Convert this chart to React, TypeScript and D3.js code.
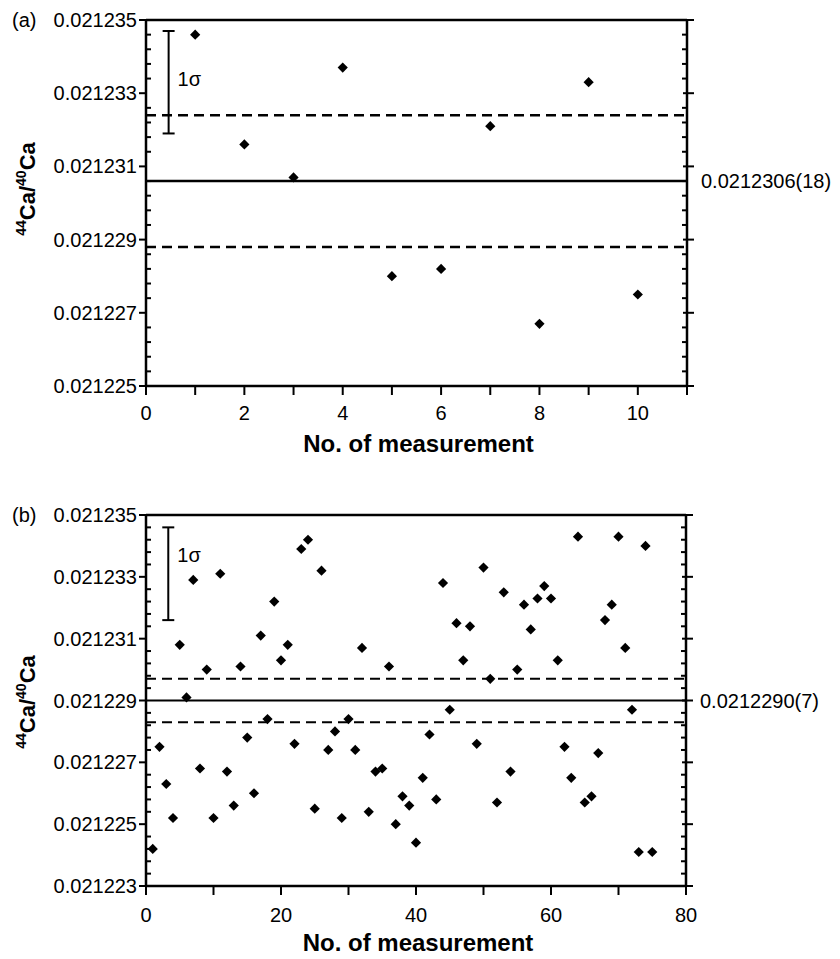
import React from 'react';
import * as d3 from 'd3';

// (a) ten measurements
const measA = [0.0212346, 0.0212316, 0.0212307, 0.0212337, 0.0212280, 0.0212282, 0.0212321, 0.0212267, 0.0212333, 0.0212275];
const meanA = 0.0212306;
const sdA = 0.0000018;
const labelA = '0.0212306(18)';
const errA = [0.0212347, 0.0212319];
const yTicksA = [0.021225, 0.021227, 0.021229, 0.021231, 0.021233, 0.021235];
const xTicksA = [0, 2, 4, 6, 8, 10];

// (b) seventy-five measurements
const measB = [
  0.0212242, 0.0212275, 0.0212263, 0.0212252, 0.0212308, 0.0212291, 0.0212329, 0.0212268, 0.0212300, 0.0212252,
  0.0212331, 0.0212267, 0.0212256, 0.0212301, 0.0212278, 0.0212260, 0.0212311, 0.0212284, 0.0212322, 0.0212303,
  0.0212308, 0.0212276, 0.0212339, 0.0212342, 0.0212255, 0.0212332, 0.0212274, 0.0212280, 0.0212252, 0.0212284,
  0.0212274, 0.0212307, 0.0212254, 0.0212267, 0.0212268, 0.0212301, 0.0212250, 0.0212259, 0.0212256, 0.0212244,
  0.0212265, 0.0212279, 0.0212258, 0.0212328, 0.0212287, 0.0212315, 0.0212303, 0.0212314, 0.0212276, 0.0212333,
  0.0212297, 0.0212257, 0.0212325, 0.0212267, 0.0212300, 0.0212321, 0.0212313, 0.0212323, 0.0212327, 0.0212323,
  0.0212303, 0.0212275, 0.0212265, 0.0212343, 0.0212257, 0.0212259, 0.0212273, 0.0212316, 0.0212321, 0.0212343,
  0.0212307, 0.0212287, 0.0212241, 0.0212340, 0.0212241,
];
const meanB = 0.021229;
const sdB = 0.0000007;
const labelB = '0.0212290(7)';
const errB = [0.0212346, 0.0212316];
const yTicksB = [0.021223, 0.021225, 0.021227, 0.021229, 0.021231, 0.021233, 0.021235];
const xTicksB = [0, 20, 40, 60, 80];

const FONT = '"Liberation Sans", Arial, Helvetica, sans-serif';

type PanelProps = {
  tag: string;
  values: number[];
  mean: number;
  sd: number;
  meanLabel: string;
  err: number[];
  errX: number;
  sigmaAt: number;
  yTicks: number[];
  xTicks: number[];
  xMax: number;
  xStep: number;
  box: { left: number; right: number; top: number; bottom: number };
  titleY: number;
  xLabelY: number;
  yTitleY: number;
  dash: string;
  lw: number;
};

const Panel = (p: PanelProps) => {
  const { left, right, top, bottom } = p.box;
  const yMin = p.yTicks[0];
  const yMax = p.yTicks[p.yTicks.length - 1];
  const x = d3.scaleLinear().domain([0, p.xMax]).range([left, right]);
  const y = d3.scaleLinear().domain([yMin, yMax]).range([bottom, top]);

  // minor ticks every 0.4e-6
  const nMinor = Math.round((yMax - yMin) / 0.0000004);
  const minor = d3.range(nMinor + 1).map(i => y(yMin + i * 0.0000004));
  const xAll = d3.range(0, p.xMax + 0.001, p.xStep);
  const diamond = d3.symbol(d3.symbolSquare, 52)();

  return (
    <g fontFamily={FONT}>
      <text x={12} y={top + 7} fontSize={20}>{p.tag}</text>

      {/* mean and +-sd lines */}
      <line x1={left} x2={right} y1={y(p.mean)} y2={y(p.mean)} stroke="#000" strokeWidth={p.lw} />
      {[p.mean + p.sd, p.mean - p.sd].map((v, i) => (
        <line key={i} x1={left} x2={right} y1={y(v)} y2={y(v)} stroke="#000" strokeWidth={p.lw} strokeDasharray={p.dash} />
      ))}
      <text x={right + 14} y={y(p.mean) + 7} fontSize={20}>{p.meanLabel}</text>

      {/* 1 sigma bar */}
      <g stroke="#000" strokeWidth={2}>
        <line x1={x(p.errX)} x2={x(p.errX)} y1={y(p.err[0])} y2={y(p.err[1])} />
        <line x1={x(p.errX) - 6} x2={x(p.errX) + 6} y1={y(p.err[0])} y2={y(p.err[0])} />
        <line x1={x(p.errX) - 6} x2={x(p.errX) + 6} y1={y(p.err[1])} y2={y(p.err[1])} />
      </g>
      <text x={x(p.errX) + 9} y={y(p.sigmaAt) + 7} fontSize={20}>1σ</text>

      {/* points */}
      {p.values.map((v, i) => (
        <path key={i} d={diamond || ''} transform={`translate(${x(i + 1)},${y(v)}) rotate(45)`} fill="#000" />
      ))}

      {/* frame */}
      <g stroke="#000" strokeWidth={2.5} fill="none">
        <line x1={left} x2={right} y1={top} y2={top} />
        <line x1={left} x2={right} y1={bottom} y2={bottom} />
        <line x1={left} x2={left} y1={top - 1} y2={bottom + 1} />
        <line x1={right} x2={right} y1={top - 1} y2={bottom + 1} />
      </g>

      {/* y ticks */}
      <g stroke="#000" strokeWidth={2}>
        {minor.map((py, i) => (
          <g key={i}>
            {i % 5 === 0 ? (
              <>
                <line x1={left - 7} x2={left} y1={py} y2={py} />
                <line x1={right - 4} x2={right + 7} y1={py} y2={py} />
              </>
            ) : (
              <>
                <line x1={left} x2={left + 5} y1={py} y2={py} />
                <line x1={right - 5} x2={right} y1={py} y2={py} />
              </>
            )}
          </g>
        ))}
      </g>
      {p.yTicks.map(t => (
        <text key={t} x={left - 9} y={y(t) + 7} fontSize={20} textAnchor="end">{t.toFixed(6)}</text>
      ))}

      {/* x ticks */}
      <g stroke="#000" strokeWidth={2}>
        {xAll.map(t => (
          <line key={t} x1={x(t)} x2={x(t)} y1={bottom} y2={bottom + 9} />
        ))}
      </g>
      {p.xTicks.map(t => (
        <text key={t} x={x(t)} y={p.xLabelY} fontSize={20} textAnchor="middle">{t}</text>
      ))}

      <text x={(left + right) / 2 + 2} y={p.titleY} fontSize={24} fontWeight="bold" textAnchor="middle">
        No. of measurement
      </text>

      <text transform={`translate(35,${p.yTitleY}) rotate(-90)`} fontSize={22} fontWeight="bold" textAnchor="middle">
        <tspan fontSize={14} dy={-9}>44</tspan>
        <tspan dy={9}>Ca/</tspan>
        <tspan fontSize={14} dy={-9}>40</tspan>
        <tspan dy={9}>Ca</tspan>
      </text>
    </g>
  );
};

export default function App() {
  return (
    <svg width={840} height={959} style={{ position: 'absolute', left: 0, top: 0, background: '#fff' }}>
      <rect width={840} height={959} fill="#fff" />
      <Panel
        tag="(a)" values={measA} mean={meanA} sd={sdA} meanLabel={labelA}
        err={errA} errX={0.46} sigmaAt={0.0212334} yTicks={yTicksA} xTicks={xTicksA} xMax={11} xStep={1}
        box={{ left: 146, right: 687, top: 20, bottom: 386 }}
        xLabelY={420} titleY={452} yTitleY={189} dash="10,6" lw={2.5}
      />
      <Panel
        tag="(b)" values={measB} mean={meanB} sd={sdB} meanLabel={labelB}
        err={errB} errX={3.3} sigmaAt={0.0212337} yTicks={yTicksB} xTicks={xTicksB} xMax={80} xStep={10}
        box={{ left: 146, right: 686, top: 515, bottom: 886 }}
        xLabelY={922} titleY={951} yTitleY={702} dash="10,6" lw={2}
      />
    </svg>
  );
}
